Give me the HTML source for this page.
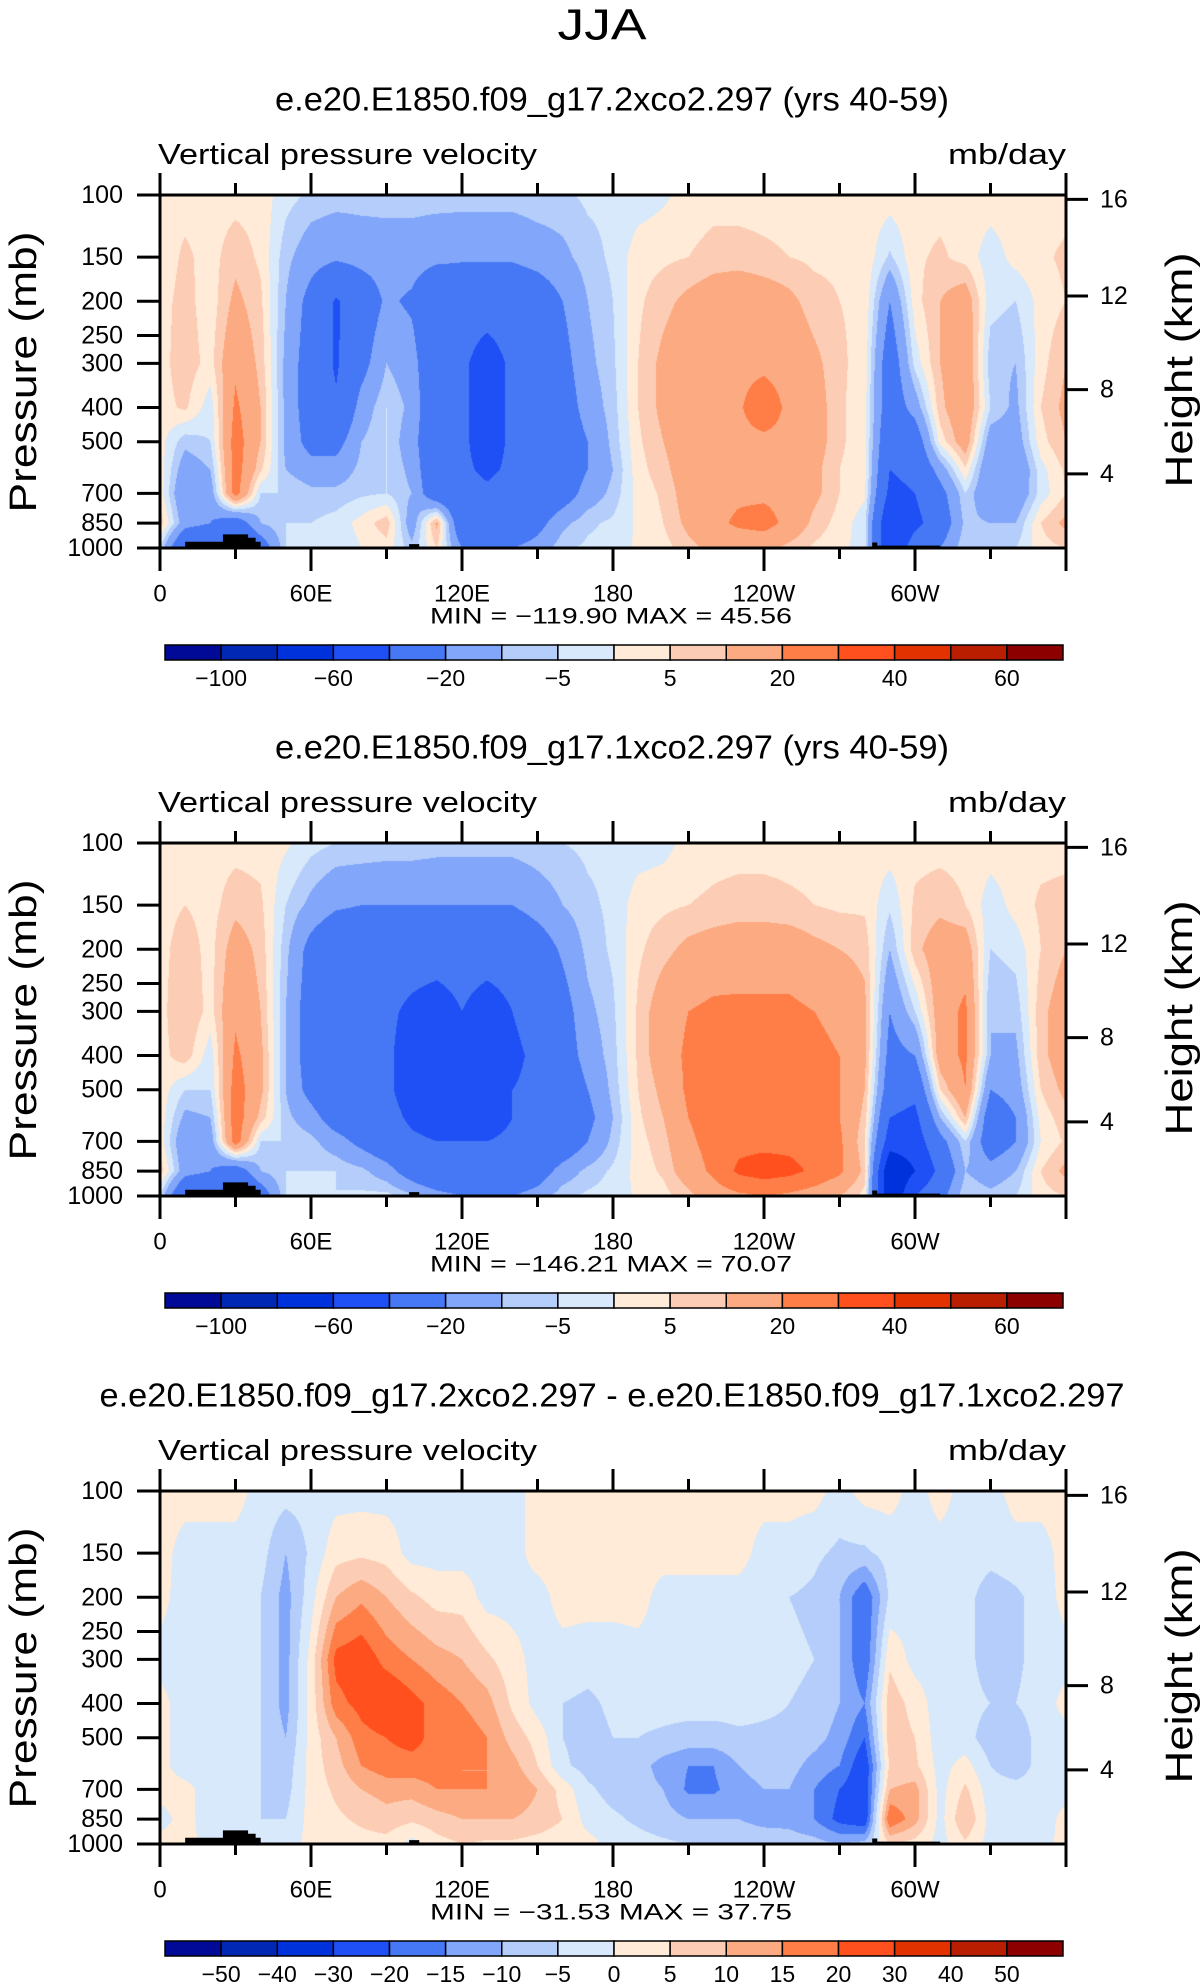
<!DOCTYPE html>
<html><head><meta charset="utf-8">
<style>
html,body{margin:0;padding:0;background:#fff;}
body{width:1203px;height:1987px;position:relative;overflow:hidden;font-family:"Liberation Sans","DejaVu Sans",sans-serif;}
canvas{position:absolute;}
</style></head>
<body>
<svg id="svg" width="1203" height="1987" style="position:absolute;left:0;top:0"></svg>
<script>
// ---- data ----
const levels = [100,150,200,300,400,500,600,700,850,1000];
const lons = [0,10,20,30,40,50,60,70,80,90,100,110,120,130,140,150,160,170,180,190,200,210,220,230,240,250,260,270,280,290,300,310,320,330,340,350,360];
const field1 = [
[3,3,3,3,3,-3,-6,-7,-7,-7,-7,-7,-7,-7,-7,-6,-6,-4,-4,-3,-1,2,3,3,3,3,3,3,3,3,3,3,3,3,3,3,3],
[2,6,3,8,4,-8,-15,-18,-16,-15,-15,-17,-18,-18,-18,-15,-12,-7,-4,3,4,5,7,7,6,5,4,4,4,-6,4,6,3,-3,2,4,6],
[3,7,2,12,6,-10,-25,-42,-30,-18,-22,-35,-35,-35,-35,-30,-20,-10,-5,4,8,12,15,17,15,12,7,5,4,-20,3,10,15,-3,-5,2,5],
[3,8,3,18,8,-12,-28,-42,-25,-10,-15,-35,-38,-45,-38,-35,-25,-12,-6,5,12,17,18,18,18,17,12,6,3,-30,-3,10,18,-8,-10,3,10],
[3,6,-3,22,10,-12,-28,-38,-15,-5,-12,-35,-38,-45,-38,-36,-28,-15,-7,5,12,17,18,19,25,18,14,6,2,-30,-15,8,18,-5,-12,5,12],
[2,-8,-5,25,10,-12,-25,-25,-10,-5,-15,-35,-38,-45,-38,-36,-30,-20,-8,4,10,16,18,18,18,18,14,6,2,-35,-30,2,15,-15,-15,3,10],
[3,-15,-10,25,6,-10,-15,-15,-8,-5,-12,-35,-38,-42,-38,-36,-30,-20,-10,3,8,15,18,18,18,17,12,5,2,-40,-35,-15,4,-20,-20,-2,6],
[3,-20,-15,25,-5,-5,-8,-8,-6,-5,-10,-32,-36,-38,-36,-35,-28,-15,-8,2,6,14,17,18,18,17,12,5,1,-45,-40,-25,-5,-20,-18,-3,5],
[8,-15,-20,-30,-10,-5,-5,-3,2,8,-15,12,-35,-36,-35,-25,-12,-6,-4,1,5,12,17,22,24,17,8,3,-3,-60,-45,-30,-8,-10,-10,5,12],
[-5,-40,-40,-40,-30,-5,-5,-5,0,3,-8,5,-20,-20,-20,-15,-6,-4,-3,1,3,8,12,12,12,8,4,2,-3,-60,-30,-20,-5,-8,-5,3,5]
];
const field2 = [
[3,3,3,3,3,1,-3,-5,-5,-6,-6,-7,-7,-7,-7,-6,-5,-4,-4,-3,-2,2,3,3,3,3,3,3,3,3,3,3,3,3,3,3,3],
[3,5,3,8,6,-5,-12,-18,-20,-20,-20,-20,-20,-20,-20,-15,-10,-6,-4,3,4,5,6,7,7,6,5,4,4,-4,6,8,5,-3,2,6,7],
[3,8,3,14,8,-8,-25,-35,-35,-35,-35,-35,-35,-35,-35,-28,-18,-8,-4,4,8,12,14,15,15,15,12,10,8,-10,8,15,15,-5,-3,5,10],
[3,10,3,18,10,-10,-28,-38,-38,-38,-42,-45,-40,-45,-40,-36,-26,-12,-6,6,15,20,22,22,22,22,20,18,12,-20,-5,15,22,-10,-8,8,15],
[3,8,-3,22,12,-10,-28,-38,-36,-38,-45,-50,-42,-50,-42,-38,-28,-15,-7,6,15,22,24,25,25,24,22,20,12,-25,-20,15,22,-10,-12,8,15],
[3,-5,-5,25,12,-10,-25,-36,-36,-38,-45,-50,-40,-50,-40,-38,-32,-20,-8,5,12,22,25,25,25,25,22,20,10,-30,-35,5,20,-20,-15,5,12],
[3,-12,-10,26,8,-8,-15,-28,-32,-36,-42,-45,-40,-45,-40,-38,-34,-24,-10,4,10,20,25,25,25,25,24,20,8,-40,-45,-10,10,-30,-20,2,8],
[3,-18,-15,26,-5,-5,-8,-15,-24,-32,-38,-40,-40,-40,-38,-36,-32,-20,-8,3,8,18,24,27,27,27,26,22,5,-50,-50,-25,-5,-30,-20,0,6],
[8,-15,-20,-30,-10,-5,-5,-5,-8,-15,-28,-38,-38,-38,-35,-28,-15,-8,-4,2,6,15,22,32,35,33,28,22,8,-80,-60,-35,-10,-15,-10,5,12],
[-5,-40,-40,-40,-30,-5,-5,-5,-4,-3,-8,-15,-20,-20,-20,-15,-6,-4,-3,1,3,8,15,18,20,18,15,10,3,-80,-40,-25,-5,-8,-5,3,5]
];
const field3 = [
[2,2,2,2,-2,-3,-3,-2,-2,-2,-2,-2,-2,-2,-2,2,2,2,2,2,2,2,2,2,2,2,2,-2,2,2,-2,2,-2,-2,2,2,2],
[2,-2,-2,-2,-3,-10,-4,3,4,3,-2,-2,-2,-2,-2,2,2,2,2,2,2,2,2,2,-2,-2,-4,-6,-6,-3,-2,-2,-2,-3,-2,-2,2],
[2,-3,-3,-2,-5,-12,-2,10,14,10,6,3,3,-2,-2,-2,2,2,2,2,-2,-2,-2,-2,-3,-5,-6,-10,-20,-4,-2,-2,-3,-8,-6,-3,2],
[-2,-3,-3,-3,-5,-12,2,22,24,18,15,12,10,6,2,-2,-2,-3,-3,-2,-2,-2,-2,-3,-3,-4,-5,-10,-20,4,-2,-3,-3,-8,-6,-3,-2],
[2,-3,-3,-3,-5,-12,2,18,22,26,22,18,15,12,4,-2,-5,-6,-4,-3,-3,-3,-3,-3,-4,-5,-6,-10,-15,8,3,-3,-3,-5,-5,-3,2],
[2,-3,-3,-3,-5,-10,2,10,18,20,22,18,18,15,8,3,-5,-7,-5,-5,-6,-7,-7,-6,-6,-6,-8,-12,-20,8,5,-3,-3,-8,-8,-3,-2],
[2,-3,-3,-3,-5,-8,2,8,15,18,18,18,15,15,12,5,-4,-7,-8,-8,-12,-15,-15,-10,-8,-8,-12,-15,-25,6,6,-2,2,-5,-8,-3,-2],
[2,2,-3,-3,-5,-7,2,6,10,12,12,15,15,15,15,10,3,-4,-7,-8,-10,-16,-16,-12,-10,-10,-15,-20,-25,10,12,-2,6,-3,-3,-3,-2],
[-2,2,-3,-3,-5,-5,2,4,6,8,6,8,10,10,10,8,5,-2,-4,-6,-8,-10,-10,-10,-12,-12,-15,-22,-25,20,12,-2,10,-2,-2,-3,2],
[2,2,-2,-2,-3,-3,2,2,3,3,-2,3,5,4,4,3,2,2,-2,-3,-4,-5,-5,-6,-6,-7,-8,-10,-8,5,3,-2,4,-2,-2,-2,2]
];
const bounds1 = [-100,-80,-60,-40,-20,-10,-5,0,5,10,20,30,40,50,60];
const bounds3 = [-50,-40,-30,-20,-15,-10,-5,0,5,10,15,20,30,40,50];
const labels1 = ["","\u2212100","","\u221260","","\u221220","","\u22125","","5","","20","","40","","60"];
const labels3 = ["","\u221250","\u221240","\u221230","\u221220","\u221215","\u221210","\u22125","0","5","10","15","20","30","40","50"];
const colors = ["#000a96","#0028b4","#0032dc","#1e50f5","#4678f5","#82a6fa","#b4cdfa","#d7e9fa","#ffebd7","#fccdb4","#fcaa82","#ff7d46","#ff501e","#e13200","#b91e00","#8c0000"];
const pTicks = [100,150,200,250,300,400,500,700,850,1000];
const kmTicks = [16,12,8,4];
const lonTicks = [0,30,60,90,120,150,180,210,240,270,300,330,360];
const lonLabels = {0:"0",60:"60E",120:"120E",180:"180",240:"120W",300:"60W"};
const topoLon = [10,25,25,35,35,38,38,40,40,10];
const topoP   = [960,960,915,915,935,935,960,960,1000,1000];
const topo2Lon = [99,103,103,99];
const topo2P = [975,975,1000,1000];
const topo3Lon = [283,285,285,310,310,283];
const topo3P = [965,965,985,985,1000,1000];
const panels = [
 {title:"e.e20.E1850.f09_g17.2xco2.297 (yrs 40-59)", tw:674, field:field1, bounds:bounds1, labels:labels1, min:"\u2212119.90", max:"45.56"},
 {title:"e.e20.E1850.f09_g17.1xco2.297 (yrs 40-59)", tw:674, field:field2, bounds:bounds1, labels:labels1, min:"\u2212146.21", max:"70.07"},
 {title:"e.e20.E1850.f09_g17.2xco2.297 - e.e20.E1850.f09_g17.1xco2.297", tw:1025, field:field3, bounds:bounds3, labels:labels3, min:"\u221231.53", max:"37.75"}
];
// ---- layout ----
const PL=160, PR=1066, PT0=195, PH=353, DY=648;
const svg=document.getElementById('svg');
const NS="http://www.w3.org/2000/svg";
function xOf(lon){return PL+(lon/360)*(PR-PL);}
function yOf(p,top){return top+Math.log10(p/100)*PH;}
function kmToP(z){z*=1000; return z<=11000?1013.25*Math.pow(1-2.25577e-5*z,5.25588):226.32*Math.exp(-(z-11000)/6341.6);}
function mk(tag,attrs,parent){const e=document.createElementNS(NS,tag);for(const k in attrs)e.setAttribute(k,attrs[k]);(parent||svg).appendChild(e);return e;}
function txt(s,x,y,size,anchor,parent,extra){const e=mk('text',Object.assign({x:x,y:y,'font-size':size,'text-anchor':anchor||'middle','font-family':'"Liberation Sans","DejaVu Sans",sans-serif','dominant-baseline':'central'},extra||{}),parent);e.textContent=s;return e;}
function valueAt(f,lon,p){
  let i=lon/10; let i0=Math.min(Math.floor(i),lons.length-2); let fx=i-i0;
  const lp=Math.log(p); let j0=0;
  while(j0<levels.length-2 && Math.log(levels[j0+1])<lp) j0++;
  let fy=(lp-Math.log(levels[j0]))/(Math.log(levels[j0+1])-Math.log(levels[j0]));
  fy=Math.max(0,Math.min(1,fy));
  const a=f[j0][i0],b=f[j0][i0+1],c=f[j0+1][i0],d=f[j0+1][i0+1];
  return (a*(1-fx)+b*fx)*(1-fy)+(c*(1-fx)+d*fx)*fy;
}
function band(v,b){let k=0;while(k<b.length&&v>=b[k])k++;return k;}
function hex(c){return [parseInt(c.slice(1,3),16),parseInt(c.slice(3,5),16),parseInt(c.slice(5,7),16)];}
const rgb=colors.map(hex);

const jja=txt("JJA",602,25,44,'middle',svg,{'font-weight':'300',textLength:89,lengthAdjust:'spacingAndGlyphs'});
 

panels.forEach((P,pi)=>{
  const top=PT0+pi*DY, bot=top+PH;
  const g=mk('g',{});
  
  
  const t=txt(P.title,612,top-96,33,'middle',g,{textLength:P.tw,lengthAdjust:'spacingAndGlyphs'});
   
  const vl=txt("Vertical pressure velocity",158,top-40,29,'start',g,{textLength:379,lengthAdjust:'spacingAndGlyphs'});
   
  const ul=txt("mb/day",1066,top-40,29,'end',g,{textLength:118,lengthAdjust:'spacingAndGlyphs'});
   
  // canvas field
  const cv=document.createElement('canvas');
  cv.width=PR-PL; cv.height=PH; cv.style.left=PL+'px'; cv.style.top=top+'px';
  
  
  document.body.insertBefore(cv,svg);
  const ctx=cv.getContext('2d'); const im=ctx.createImageData(cv.width,cv.height);
  for(let y=0;y<cv.height;y++){
    const p=100*Math.pow(10,(y+0.5)/PH);
    for(let x=0;x<cv.width;x++){
      const lon=(x+0.5)/cv.width*360;
      const c=rgb[band(valueAt(P.field,lon,p),P.bounds)];
      const o=(y*cv.width+x)*4; im.data[o]=c[0];im.data[o+1]=c[1];im.data[o+2]=c[2];im.data[o+3]=255;
    }
  }
  ctx.putImageData(im,0,0);
  // topography
  [[topoLon,topoP],[topo2Lon,topo2P],[topo3Lon,topo3P]].forEach(([L,Pp])=>{
    const pts=L.map((l,k)=>xOf(l)+','+yOf(Pp[k],top)).join(' ');
    const pg=mk('polygon',{points:pts,fill:'#000'},g);
     
  });
  // frame
  const fr=mk('rect',{x:PL,y:top,width:PR-PL,height:PH,fill:'none',stroke:'#000','stroke-width':3},g);
   
  pTicks.forEach(p=>{
    const y=yOf(p,top);
    mk('line',{x1:137,x2:PL,y1:y,y2:y,stroke:'#000','stroke-width':3},g);
    const l=txt(String(p),123,y,25,'end',g);
     
  });
  kmTicks.forEach(z=>{
    const y=yOf(kmToP(z),top);
    mk('line',{x1:PR,x2:1088,y1:y,y2:y,stroke:'#000','stroke-width':3},g);
    const l=txt(String(z),1100,y,25,'start',g);
     
  });
  lonTicks.forEach(lon=>{
    const x=xOf(lon), major=lon%60===0;
    mk('line',{x1:x,x2:x,y1:top,y2:top-(major?22:12),stroke:'#000','stroke-width':3},g);
    mk('line',{x1:x,x2:x,y1:bot,y2:bot+(major?23:11),stroke:'#000','stroke-width':3},g);
    if(lonLabels[lon]!==undefined){
      const l=txt(lonLabels[lon],x,bot+46,24,'middle',g);
       
    }
  });
  const mm=txt("MIN = "+P.min+"   MAX =   "+P.max,611,bot+68,22,'middle',g,{'xml:space':'preserve',textLength:362,lengthAdjust:'spacingAndGlyphs'});
   
  const ya=txt("Pressure (mb)",0,0,38,'middle',g,{transform:'translate(24,'+(top+177)+') rotate(-90)',textLength:281,lengthAdjust:'spacingAndGlyphs','font-weight':'300'});
   
  const ha=txt("Height (km)",0,0,38,'middle',g,{transform:'translate(1180,'+(top+175)+') rotate(-90)',textLength:235,lengthAdjust:'spacingAndGlyphs','font-weight':'300'});
   
  // colorbar
  const cb=mk('g',{},g);
   
  const cx0=165,cx1=1063,cy=top+450,ch=15,w=(cx1-cx0)/colors.length;
  colors.forEach((c,k)=>{
    const r=mk('rect',{x:cx0+k*w,y:cy,width:w,height:ch,fill:c,stroke:'#000','stroke-width':1.5},cb);
     
  });
  P.labels.forEach((s,k)=>{
    if(!s) return;
    const l=txt(s,cx0+k*w,cy+33,23,'middle',cb);
     
  });
});
</script>
</body></html>
